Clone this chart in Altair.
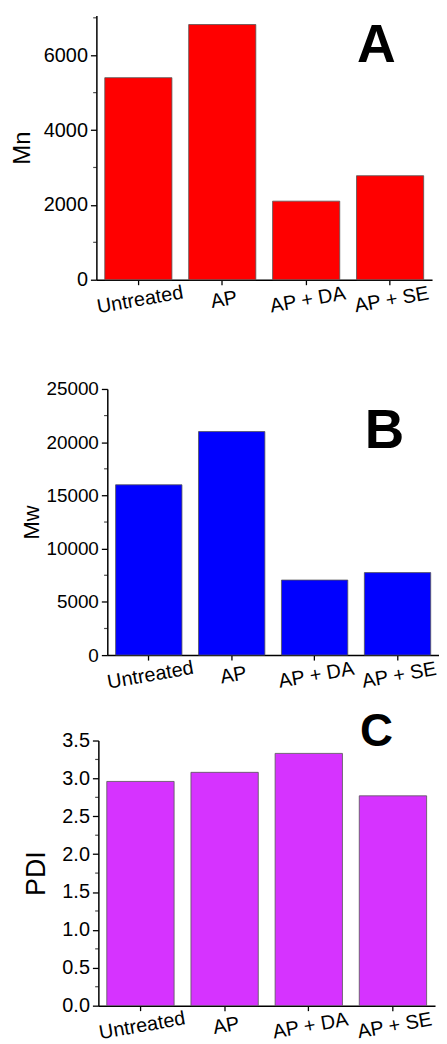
import altair as alt
import pandas as pd

categories = ["Untreated", "AP", "AP + DA", "AP + SE"]
mn_values = [5400, 6820, 2100, 2780]
mw_values = [16000, 21000, 7050, 7750]
pdi_values = [2.96, 3.08, 3.33, 2.77]

mn_ticks = [0, 2000, 4000, 6000]
mn_minor = [1000, 3000, 5000, 7000]
mw_ticks = [0, 5000, 10000, 15000, 20000, 25000]
mw_minor = [2500, 7500, 12500, 17500, 22500]
pdi_ticks = [0.0, 0.5, 1.0, 1.5, 2.0, 2.5, 3.0, 3.5]
pdi_minor = [0.25, 0.75, 1.25, 1.75, 2.25, 2.75, 3.25]

FONT = "Liberation Sans"


def panel(values, minor, title, color, domain, ticks, fmt, x_shift, plot_w,
          y_shift, plot_h, letter, lx, ly, lsize, title_size, label_size,
          title_pad):
    width = x_shift + plot_w
    height = y_shift + plot_h
    yscale = alt.Scale(domain=domain, nice=False, zero=True,
                       range=[height, y_shift])
    yaxis = alt.Axis(
        values=ticks, format=fmt, title=title,
        titleFontSize=title_size, titleFont=FONT,
        titleFontWeight="normal", titleColor="black",
        titlePadding=title_pad, labelFontSize=label_size,
        labelFont=FONT, labelColor="black", labelPadding=3,
        tickSize=6, tickWidth=1.3, tickColor="black",
        domainColor="black", domainWidth=1.5, grid=False,
        labelFlush=False, offset=-x_shift,
    )
    df = pd.DataFrame({"cat": categories, "v": values})
    bars = alt.Chart(df).mark_bar(
        color=color, stroke="#555555", strokeWidth=0.8
    ).encode(
        x=alt.X(
            "cat:N", sort=categories,
            scale=alt.Scale(paddingInner=0.2, paddingOuter=0.1,
                            range=[x_shift, width]),
            axis=alt.Axis(
                title=None, labelAngle=350, labelAlign="center",
                labelBaseline="top", labelFontSize=20, labelPadding=5,
                labelFont=FONT, labelColor="black", tickSize=5,
                tickWidth=1.3, tickColor="black", domainColor="black",
                domainWidth=1.5, labelOverlap=False, labelBound=False,
            ),
        ),
        y=alt.Y("v:Q", scale=yscale, axis=yaxis),
    )
    minor_ticks = alt.Chart(pd.DataFrame({"m": minor})).mark_tick(
        orient="horizontal", size=3.5, thickness=1.2, color="black"
    ).encode(
        y=alt.Y("m:Q", scale=yscale, axis=yaxis),
        x=alt.value(x_shift - 1.5),
    )
    txt = alt.Chart(pd.DataFrame({"t": [letter]})).mark_text(
        fontSize=lsize, fontWeight="bold", font=FONT, color="black",
        align="center", baseline="alphabetic"
    ).encode(text="t:N", x=alt.value(x_shift + lx), y=alt.value(y_shift + ly))
    return alt.layer(bars, minor_ticks, txt).properties(width=width,
                                                         height=height)


a = panel(mn_values, mn_minor, "Mn", "#FF0000", [0, 7060], mn_ticks, "d",
          0, 338, 0, 266, "A", 282, 47, 54, 24, 20, 9)
b = panel(mw_values, mw_minor, "Mw", "#0000FF", [0, 25000], mw_ticks, "d",
          11, 334, 24, 268, "B", 279, 59, 55, 22, 19, 2)
c = panel(pdi_values, pdi_minor, "PDI", "#D633FF", [0, 3.5], pdi_ticks,
          ".1f", 2, 339, 0, 267, "C", 280, 6, 46, 27, 20, 11)

chart = alt.vconcat(a, b, c, spacing=86, bounds="flush").properties(
    padding={"left": 2, "top": 4, "right": 0, "bottom": 0}
).configure_view(stroke=None)

chart.save("out.html", embed_options={"renderer": "svg", "actions": False})
